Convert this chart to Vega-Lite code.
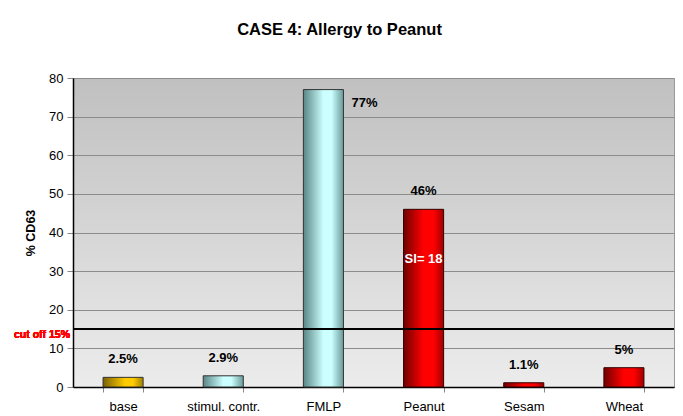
{
  "$schema": "https://vega.github.io/schema/vega-lite/v6.json",
  "autosize": {"type": "none"},
  "width": 601,
  "height": 309,
  "padding": {"left": 73, "top": 78, "right": 9, "bottom": 29},
  "background": "white",
  "title": {
    "text": "CASE 4: Allergy to Peanut",
    "font": "Liberation Sans",
    "fontSize": 16.5,
    "fontWeight": "bold",
    "color": "black",
    "anchor": "middle",
    "offset": 34,
    "dx": -34
  },
  "config": {
    "font": "Liberation Sans",
    "view": {
      "stroke": "#999999",
      "fill": {
        "gradient": "linear",
        "x1": 0, "y1": 0, "x2": 0, "y2": 1,
        "stops": [
          {"offset": 0, "color": "#c0c0c0"},
          {"offset": 1, "color": "#ececec"}
        ]
      }
    }
  },
  "data": {
    "values": [
      {"cat": "base", "value": 2.5, "label": "2.5%", "group": "base", "si": ""},
      {"cat": "stimul. contr.", "value": 2.9, "label": "2.9%", "group": "ctrl", "si": ""},
      {"cat": "FMLP", "value": 77, "label": "77%", "group": "ctrl", "si": ""},
      {"cat": "Peanut", "value": 46, "label": "46%", "group": "allergen", "si": "SI= 18"},
      {"cat": "Sesam", "value": 1.1, "label": "1.1%", "group": "allergen", "si": ""},
      {"cat": "Wheat", "value": 5, "label": "5%", "group": "allergen", "si": ""}
    ]
  },
  "encoding": {
    "x": {
      "field": "cat",
      "type": "nominal",
      "sort": null,
      "scale": {"paddingInner": 0.6, "paddingOuter": 0.3},
      "axis": {
        "title": null,
        "labelAngle": 0,
        "labelFontSize": 13,
        "labelColor": "black",
        "labelPadding": 8,
        "tickBand": "extent",
        "tickSize": 5,
        "tickColor": "#888888",
        "domainColor": "black",
        "domainWidth": 1.5
      }
    },
    "y": {
      "field": "value",
      "type": "quantitative",
      "scale": {"domain": [0, 80], "nice": false},
      "axis": {
        "title": "% CD63",
        "titleFontSize": 12.5,
        "titleFontWeight": "bold",
        "titleColor": "black",
        "titlePadding": 11,
        "values": [0, 10, 20, 30, 40, 50, 60, 70, 80],
        "labelFontSize": 13,
        "labelColor": "black",
        "labelPadding": 4,
        "tickSize": 6,
        "tickColor": "#888888",
        "grid": true,
        "gridColor": "#8c8c8c",
        "gridWidth": 1,
        "domainColor": "black",
        "domainWidth": 1.5
      }
    }
  },
  "layer": [
    {
      "transform": [{"filter": "datum.group == 'base'"}],
      "mark": {
        "type": "bar",
        "stroke": "#333333",
        "strokeWidth": 1,
        "color": {
          "gradient": "linear", "x1": 0, "y1": 0, "x2": 1, "y2": 0,
          "stops": [
            {"offset": 0, "color": "#7a6000"},
            {"offset": 0.55, "color": "#ffcc00"},
            {"offset": 0.75, "color": "#ffcc00"},
            {"offset": 1, "color": "#a08000"}
          ]
        }
      }
    },
    {
      "transform": [{"filter": "datum.group == 'ctrl'"}],
      "mark": {
        "type": "bar",
        "stroke": "#333333",
        "strokeWidth": 1,
        "color": {
          "gradient": "linear", "x1": 0, "y1": 0, "x2": 1, "y2": 0,
          "stops": [
            {"offset": 0, "color": "#5a8585"},
            {"offset": 0.5, "color": "#ccffff"},
            {"offset": 0.7, "color": "#ccffff"},
            {"offset": 1, "color": "#6a9a9a"}
          ]
        }
      }
    },
    {
      "transform": [{"filter": "datum.group == 'allergen'"}],
      "mark": {
        "type": "bar",
        "stroke": "#330000",
        "strokeWidth": 1,
        "color": {
          "gradient": "linear", "x1": 0, "y1": 0, "x2": 1, "y2": 0,
          "stops": [
            {"offset": 0, "color": "#700000"},
            {"offset": 0.5, "color": "#ff0000"},
            {"offset": 0.75, "color": "#ff0000"},
            {"offset": 1, "color": "#a00000"}
          ]
        }
      }
    },
    {
      "transform": [{"filter": "datum.cat != 'FMLP'"}],
      "mark": {
        "type": "text",
        "fontSize": 13,
        "fontWeight": "bold",
        "color": "black",
        "baseline": "bottom",
        "dy": -11
      },
      "encoding": {"text": {"field": "label"}}
    },
    {
      "transform": [{"filter": "datum.cat == 'FMLP'"}],
      "mark": {
        "type": "text",
        "fontSize": 13,
        "fontWeight": "bold",
        "color": "black",
        "align": "left",
        "baseline": "middle",
        "dx": 28,
        "dy": 13
      },
      "encoding": {"text": {"field": "label"}}
    },
    {
      "transform": [{"filter": "datum.si != ''"}],
      "mark": {
        "type": "text",
        "fontSize": 13,
        "fontWeight": "bold",
        "color": "white",
        "baseline": "middle",
        "dy": 50
      },
      "encoding": {"text": {"field": "si"}}
    },
    {
      "mark": {"type": "rule", "color": "black", "strokeWidth": 2},
      "encoding": {"y": {"datum": 15}, "x": null}
    },
    {
      "mark": {
        "type": "text",
        "text": "cut off 15%",
        "fontSize": 10.5,
        "fontWeight": "bold",
        "color": "#ff0000",
        "align": "right",
        "baseline": "top",
        "dx": -3,
        "dy": 1
      },
      "encoding": {"y": {"datum": 15}, "x": {"value": 0}}
    }
  ]
}
